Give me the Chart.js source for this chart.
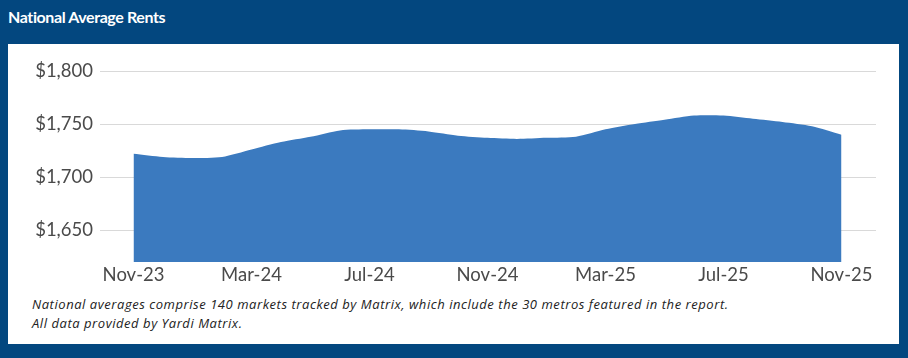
<!DOCTYPE html>
<html>
<head>
<meta charset="utf-8">
<script src="https://cdn.jsdelivr.net/npm/chart.js@4.4.1/dist/chart.umd.min.js"></script>
<style>
  html, body { margin:0; padding:0; }
  body { width:908px; height:358px; background:#03477f; position:relative; overflow:hidden; font-family: Lato, "Open Sans", sans-serif; }
  #title { position:absolute; left:8px; top:7px; color:#fff; font-family: Lato, sans-serif; font-weight:700; font-size:16px; letter-spacing:-0.4px; line-height:20px; }
  #panel { position:absolute; left:8px; top:44px; width:891px; height:300px; background:#fff; }
  #wrap { position:absolute; left:0; top:0; width:891px; height:248px; }
  #note { position:absolute; left:24px; top:251px; color:#222; font-family: "Open Sans", sans-serif; font-style:italic; font-size:13px; line-height:19px; letter-spacing:0.55px; }
</style>
</head>
<body>
<div id="title">National Average Rents</div>
<div id="panel">
  <div id="wrap"><canvas id="c"></canvas></div>
  <div id="note">National averages comprise 140 markets tracked by Matrix, which include the 30 metros featured in the report.<br>All data provided by Yardi Matrix.</div>
</div>
<script>
const months = ["Nov-23","Dec-23","Jan-24","Feb-24","Mar-24","Apr-24","May-24","Jun-24","Jul-24","Aug-24","Sep-24","Oct-24","Nov-24","Dec-24","Jan-25","Feb-25","Mar-25","Apr-25","May-25","Jun-25","Jul-25","Aug-25","Sep-25","Oct-25","Nov-25"];
const rents = [1722,1719,1718,1719,1726,1733,1738,1744,1745,1745,1743,1739,1737,1736,1737,1738,1745,1750,1754,1758,1758,1755,1752,1748,1740];
const xTickIndexes = [0,4,8,12,16,20,24];
const yTicks = [1650,1700,1750,1800];

const points = rents.map((v,i)=>({x:i, y:v}));

new Chart(document.getElementById('c'), {
  type: 'line',
  data: { datasets: [{
    data: points,
    fill: 'start',
    backgroundColor: '#3b7abf',
    borderColor: '#3b7abf',
    borderWidth: 0,
    pointRadius: 0,
    tension: 0.25
  }]},
  options: {
    responsive: true,
    maintainAspectRatio: false,
    animation: false,
    layout: { padding: { top: 27, right: 23, left: 0, bottom: 0 } },
    plugins: { legend: { display:false }, tooltip: { enabled:false } },
    scales: {
      x: {
        type: 'linear',
        min: -1.136, max: 25.17,
        afterBuildTicks: s => { s.ticks = xTickIndexes.map(v=>({value:v})); },
        afterFit: s => { s.height = 30; },
        grid: { display:false, drawTicks:false },
        border: { display:false },
        ticks: { padding: 2, maxRotation:0, autoSkip:false, color:'#4a4a4a', font:{ family:'Lato', size:18.5, weight:400 },
          callback: v => months[v] }
      },
      y: {
        min: 1620, max: 1800,
        afterBuildTicks: s => { s.ticks = yTicks.map(v=>({value:v})); },
        afterFit: s => { s.width = 92; },
        grid: { color:'#d9d9d9', drawTicks:false, lineWidth:1 },
        border: { display:false },
        ticks: { padding: 7, color:'#4a4a4a', font:{ family:'Lato', size:18.5, weight:400 },
          callback: v => '$' + v.toLocaleString('en-US') }
      }
    }
  }
});
</script>
</body>
</html>
